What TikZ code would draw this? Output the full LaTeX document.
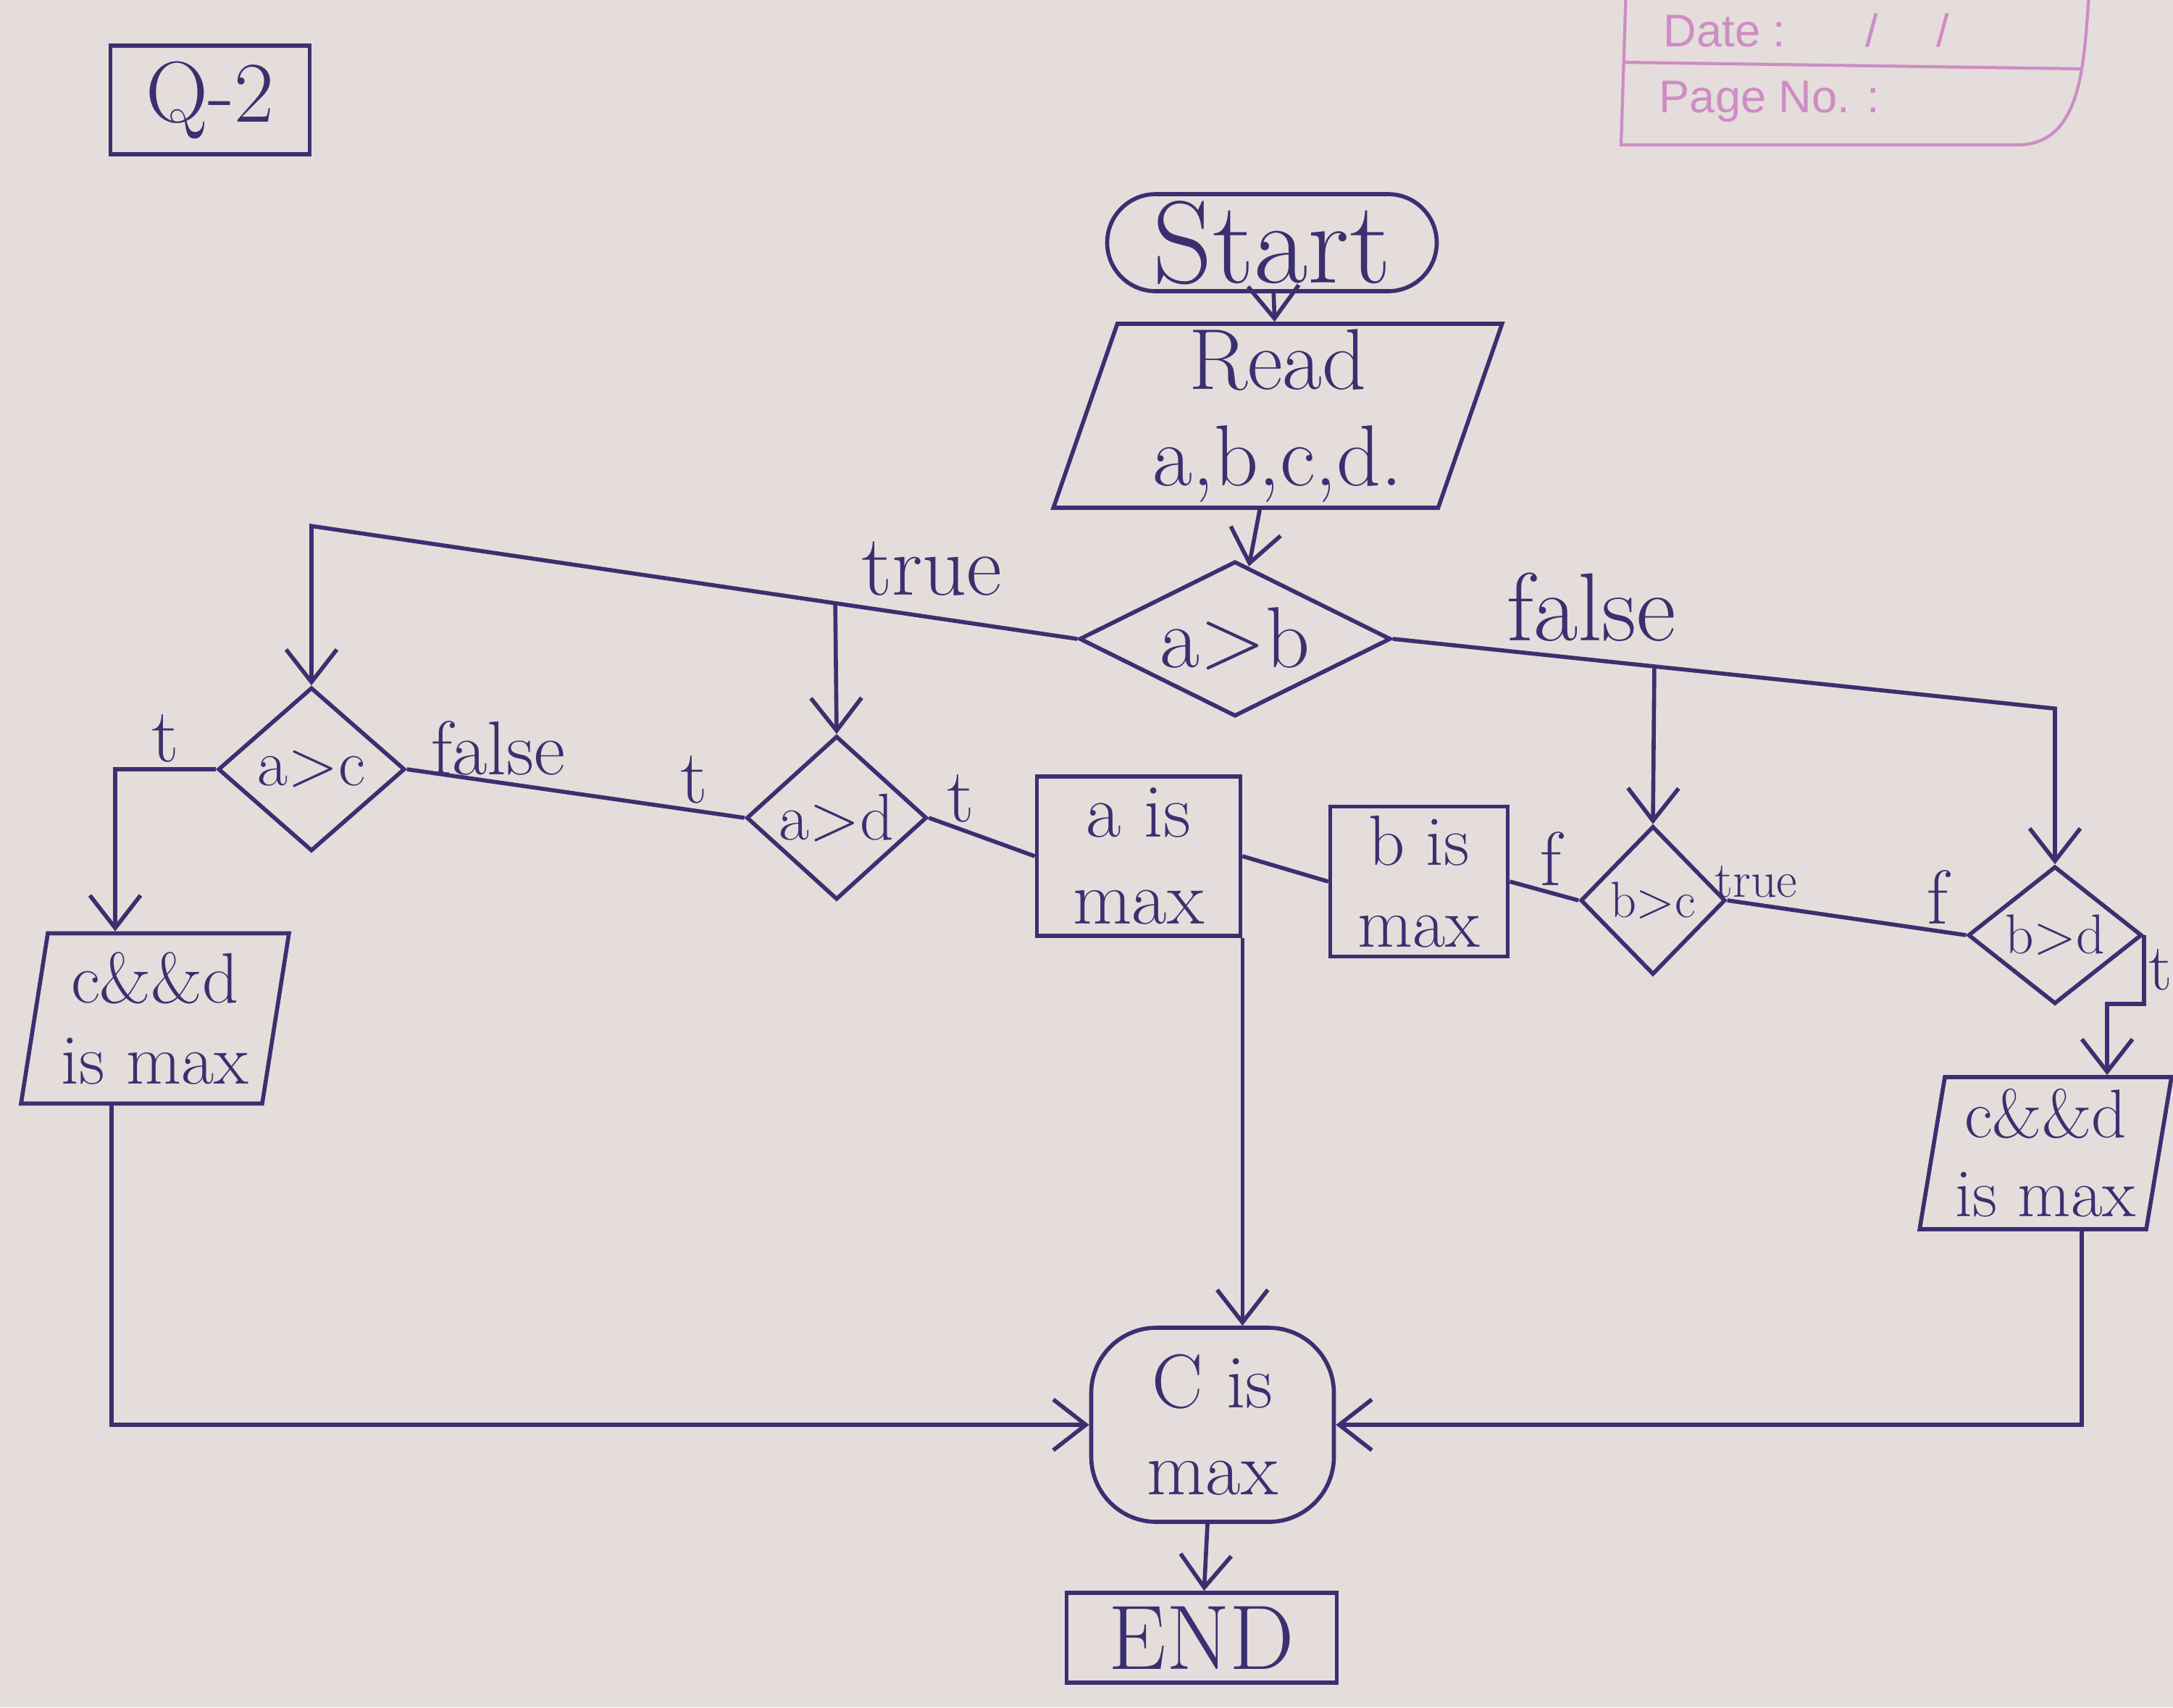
\documentclass[tikz,border=0pt]{standalone}
\usepackage{fontspec}
\usepackage{tikz}
\usetikzlibrary{shapes.geometric, arrows.meta, calc}
\newfontfamily\printfont{Liberation Sans}
\definecolor{ink}{RGB}{58,48,112}
\definecolor{paper}{RGB}{228,221,219}
\definecolor{printpink}{RGB}{206,140,196}

\begin{document}
\begin{tikzpicture}[main/.style={draw=ink, text=ink, line width=1.6pt, inner sep=0pt, align=center}, term/.style={main, rectangle, rounded corners=0.67cm, font=\fontsize{46}{50}\selectfont}, inout/.style={main, trapezium, trapezium left angle=74, trapezium right angle=106, trapezium stretches=true, font=\fontsize{34}{38}\selectfont}, proc/.style={main, rectangle, font=\fontsize{30}{34}\selectfont}, cond/.style={main, diamond}, lbl/.style={text=ink, inner sep=2pt, font=\fontsize{30}{34}\selectfont}, n/.style={draw=ink, line width=1.6pt, -{Straight Barb[length=0.45cm, width=0.7cm]}}, l/.style={draw=ink, line width=1.6pt}, print/.style={text=printpink, font=\printfont\fontsize{18}{20}\selectfont, anchor=west, inner sep=0pt}]
                \useasboundingbox (0,0) rectangle (30,-23.57);
                \fill[paper] (0,0) rectangle (30,-23.57);
                % page header
                \draw[printpink, line width=1.2pt] (22.45,0.2) -- (22.38,-2.0) -- (27.85,-2.0) to[out=0, in=-95] (28.85,0.2);
                \draw[printpink, line width=1.2pt] (22.42,-0.86) -- (28.72,-0.95);
                \node[print] (datelbl) at (22.96,-0.42) {Date :\hspace{1.1cm}/\hspace{0.8cm}/};
                \node[print] (pagelbl) at (22.9,-1.4) {Page No. :};
                % nodes
                \node[proc, minimum width=2.75cm, minimum height=1.5cm, font=\fontsize{34}{36}\selectfont] (qtwo) at (2.9,-1.38) {Q-2};
                \node[term, minimum width=4.55cm, minimum height=1.34cm] (start) at (17.56,-3.35) {Start};
                \node[inout, minimum width=6.2cm, minimum height=2.54cm] (read) at (17.64,-5.74) {Read\\a,b,c,d.};
                \node[cond, aspect=2, minimum width=4.3cm, minimum height=2.14cm, font=\fontsize{34}{36}\selectfont] (ab) at (17.05,-8.82) {a>b};
                \node[cond, aspect=1.14, minimum width=2.58cm, minimum height=2.26cm, font=\fontsize{26}{28}\selectfont] (ac) at (4.30,-10.62) {a>c};
                \node[cond, aspect=1.1, minimum width=2.49cm, minimum height=2.26cm, font=\fontsize{26}{28}\selectfont] (ad) at (11.55,-11.29) {a>d};
                \node[proc, minimum width=2.81cm, minimum height=2.2cm] (amax) at (15.72,-11.82) {a is\\max};
                \node[proc, minimum width=2.45cm, minimum height=2.07cm, font=\fontsize{28}{32}\selectfont] (bmax) at (19.59,-12.17) {b is\\max};
                \node[cond, aspect=1, minimum width=2.0cm, minimum height=2.05cm, font=\fontsize{20}{22}\selectfont] (bc) at (22.82,-12.43) {b>c};
                \node[cond, aspect=1.26, minimum width=2.4cm, minimum height=1.9cm, font=\fontsize{22}{24}\selectfont] (bd) at (28.37,-12.91) {b>d};
                \node[inout, trapezium left angle=80, trapezium right angle=100, minimum width=3.73cm, minimum height=2.35cm, font=\fontsize{28}{32}\selectfont] (cdl) at (2.14,-14.06) {c\&\&d\\is max};
                \node[inout, trapezium left angle=80, trapezium right angle=100, minimum width=3.5cm, minimum height=2.1cm, font=\fontsize{27}{31}\selectfont] (cdr) at (28.24,-15.92) {c\&\&d\\is max};
                \node[proc, rounded corners=0.9cm, minimum width=3.35cm, minimum height=2.68cm] (cmax) at (16.74,-19.67) {C is\\max};
                \node[proc, minimum width=3.73cm, minimum height=1.24cm, font=\fontsize{36}{38}\selectfont] (finish) at (16.59,-22.61) {END};
                % helper points
                \coordinate (tl) at ($(ac.north)+(0,2.2)$);
                \coordinate (tj) at ($(ab.west)!0.316!(tl)$);
                \coordinate (fr) at ($(bd.north)+(0,2.15)$);
                \coordinate (fj) at ($(ab.east)!0.395!(fr)$);
                % edges
                \draw [n] (start) -- (read);
                \draw [n] (read) -- (ab);
                \draw [n] (ab.west) -- node[lbl, above, pos=0.19, yshift=0.2cm, font=\fontsize{34}{36}\selectfont] {true} (tl) -- (ac.north);
                \draw [n] (tj) -- (ad.north);
                \draw [n] (ab.east) -- node[lbl, above, pos=0.3, yshift=0.15cm, font=\fontsize{38}{40}\selectfont] {false} (fr) -- (bd.north);
                \draw [n] (fj) -- (bc.north);
                \draw [n] (ac.west) -| node[lbl, above, pos=0.25] {t} ([xshift=-0.55cm]cdl.north);
                \draw [l] (ac.east) -- node[lbl, above, pos=0.27] {false} node[lbl, above, pos=0.85] {t} (ad.west);
                \draw [l] (ad.east) -- node[lbl, above, pos=0.3] {t} (amax.west);
                \draw [l] (amax.east) -- (bmax.west);
                \draw [l] (bmax.east) -- node[lbl, above, pos=0.6] {f} (bc.west);
                \draw [l] (bc.east) -- node[lbl, above, pos=0.12, font=\fontsize{20}{22}\selectfont] {true} node[lbl, above, pos=0.88] {f} (bd.west);
                \draw [n] (bd.east) -- node[lbl, right, pos=0.5, inner sep=1pt, font=\fontsize{26}{28}\selectfont] {t} ++(0,-0.95) -| ([xshift=0.85cm]cdr.north);
                \draw [n] (amax.south east) -- (amax.south east |- cmax.north);
                \draw [n] ([xshift=-0.6cm]cdl.south) |- (cmax.west);
                \draw [n] ([xshift=0.5cm]cdr.south) |- (cmax.east);
                \draw [n] (cmax) -- (finish);
            \end{tikzpicture}
\end{document}
